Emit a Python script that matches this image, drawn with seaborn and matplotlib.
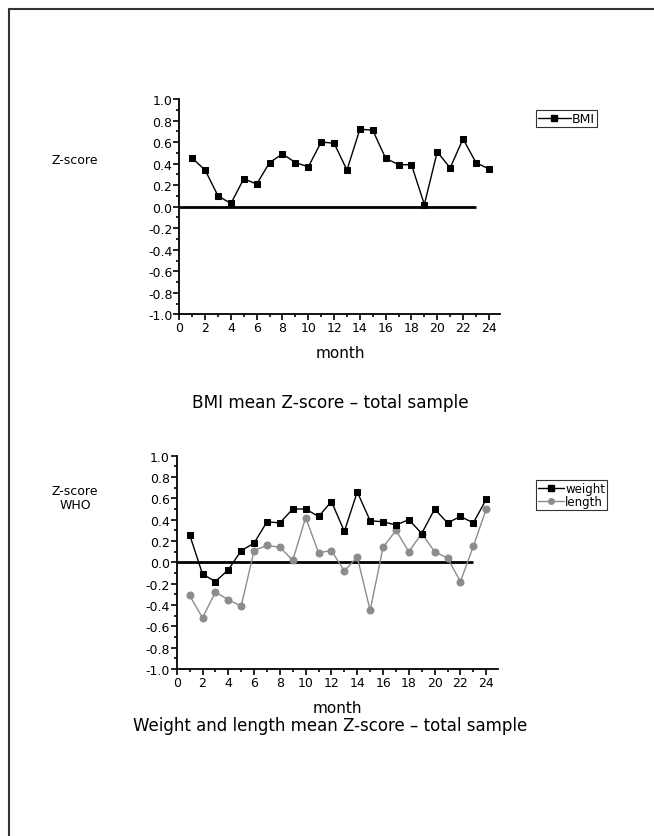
import numpy as np
import pandas as pd
import matplotlib
matplotlib.use("Agg")
import matplotlib.pyplot as plt
from matplotlib.lines import Line2D
from matplotlib.ticker import MultipleLocator, FormatStrFormatter
import seaborn as sns

months = list(range(1, 25))
bmi = [0.45, 0.34, 0.10, 0.03, 0.26, 0.21, 0.41, 0.49, 0.41, 0.37, 0.60, 0.59,
       0.34, 0.72, 0.71, 0.45, 0.39, 0.39, 0.02, 0.51, 0.36, 0.63, 0.41, 0.35]
weight = [0.26, -0.11, -0.18, -0.07, 0.11, 0.18, 0.38, 0.37, 0.50, 0.50, 0.43, 0.57,
          0.29, 0.66, 0.39, 0.38, 0.35, 0.40, 0.27, 0.50, 0.37, 0.43, 0.37, 0.59]
length = [-0.31, -0.52, -0.28, -0.35, -0.41, 0.11, 0.16, 0.14, 0.02, 0.42, 0.09, 0.11,
          -0.08, 0.05, -0.45, 0.14, 0.30, 0.10, 0.27, 0.10, 0.04, -0.18, 0.15, 0.50]

sns.set_theme(style="ticks")
plt.rcParams['font.family'] = ['DejaVu Sans']
plt.rcParams['text.color'] = 'black'
plt.rcParams['axes.labelcolor'] = 'black'
plt.rcParams['xtick.color'] = 'black'
plt.rcParams['ytick.color'] = 'black'

fig = plt.figure(figsize=(6.54, 8.37), dpi=100)
ax1 = fig.add_axes([0.2742, 0.6232, 0.491, 0.2573])
ax2 = fig.add_axes([0.2702, 0.1995, 0.491, 0.2549])

df1 = pd.DataFrame({"month": months, "BMI": bmi})
df2 = pd.DataFrame({"month": months, "weight": weight, "length": length})

sns.lineplot(data=df1, x="month", y="BMI", ax=ax1, color="black", lw=1,
             marker="s", markersize=5, markeredgecolor="black")
sns.lineplot(data=df2, x="month", y="length", ax=ax2, color="#8c8c8c", lw=1,
             marker="o", markersize=5, markeredgecolor="#8c8c8c")
sns.lineplot(data=df2, x="month", y="weight", ax=ax2, color="black", lw=1,
             marker="s", markersize=5, markeredgecolor="black")

for ax in (ax1, ax2):
    ax.hlines(0, 0, 23, color="black", lw=2, zorder=1)
    ax.set_xlim(0, 24.9)
    ax.set_ylim(-1.0, 1.0)
    ax.xaxis.set_major_locator(MultipleLocator(2))
    ax.xaxis.set_minor_locator(MultipleLocator(1))
    ax.yaxis.set_major_locator(MultipleLocator(0.2))
    ax.yaxis.set_minor_locator(MultipleLocator(0.1))
    ax.yaxis.set_major_formatter(FormatStrFormatter('%.1f'))
    ax.tick_params(which="major", direction="out", length=4, width=1.2,
                   labelsize=9, pad=1, color="black", labelcolor="black")
    ax.tick_params(which="minor", direction="out", length=2.5, width=1.2, color="black")
    for s in ("top", "right"):
        ax.spines[s].set_visible(False)
    for s in ("left", "bottom"):
        ax.spines[s].set_color("black")
        ax.spines[s].set_linewidth(1.3)
    ax.set_xlabel("month", fontsize=11, labelpad=8, color="black")
    ax.set_ylabel("")

fig.text(0.115, 0.808, "Z-score", fontsize=9, ha="center", va="center")
fig.text(0.115, 0.405, "Z-score\nWHO", fontsize=9, ha="center", va="center",
         linespacing=1.1)

h_bmi = [Line2D([], [], color="black", lw=1, marker="s", markersize=4)]
leg1 = fig.legend(h_bmi, ["BMI"], loc="upper left", bbox_to_anchor=(0.82, 0.867),
                  frameon=True, fancybox=False, fontsize=9, handlelength=2.6,
                  handletextpad=0.1, borderpad=0.15, borderaxespad=0)
leg1.get_frame().set_edgecolor("black")
leg1.get_frame().set_linewidth(0.8)

h2 = [Line2D([], [], color="black", lw=1, marker="s", markersize=4),
      Line2D([], [], color="#8c8c8c", lw=1, marker="o", markersize=4)]
leg2 = fig.legend(h2, ["weight", "length"], loc="upper left",
                  bbox_to_anchor=(0.82, 0.425), frameon=True, fancybox=False,
                  fontsize=8.5, handlelength=2.2, handletextpad=0.1, borderpad=0.15,
                  labelspacing=0.0, borderaxespad=0)
leg2.get_frame().set_edgecolor("black")
leg2.get_frame().set_linewidth(0.8)

fig.text(0.505, 0.518, "BMI mean Z-score \u2013 total sample", fontsize=12.2,
         ha="center", va="center")
fig.text(0.505, 0.133, "Weight and length mean Z-score \u2013 total sample", fontsize=12,
         ha="center", va="center")

# page frame (left and top edges only)
fig.add_artist(Line2D([9 / 654, 9 / 654], [0, 1 - 10 / 837], transform=fig.transFigure,
                      color="#333333", lw=1.5))
fig.add_artist(Line2D([9 / 654, 1], [1 - 10 / 837, 1 - 10 / 837], transform=fig.transFigure,
                      color="#333333", lw=1.5))

fig.savefig("out.png", dpi=100)
